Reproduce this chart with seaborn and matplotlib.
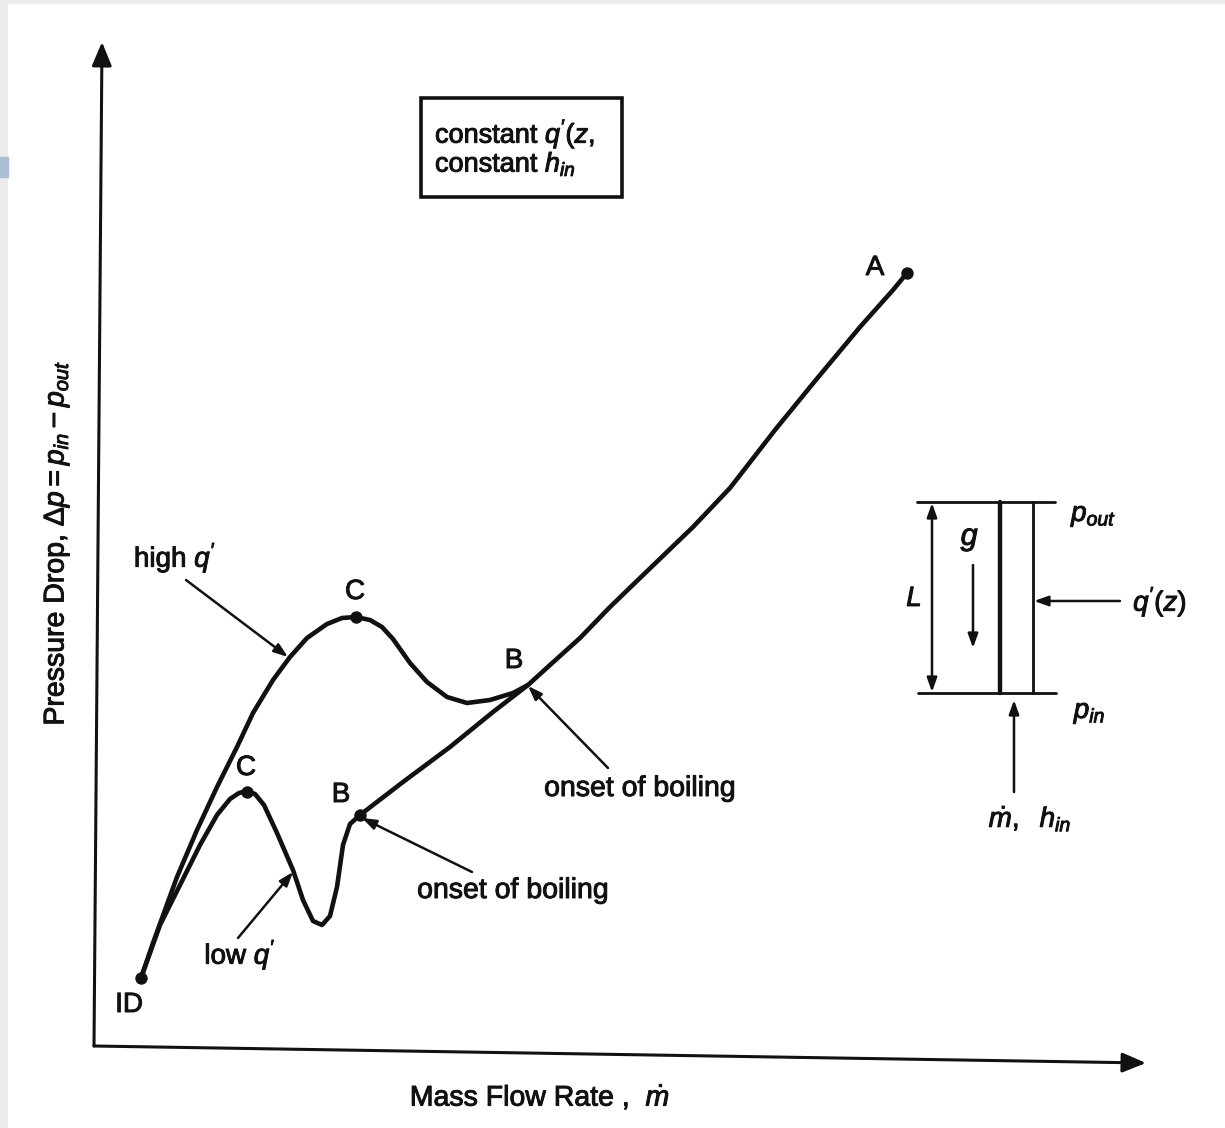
import matplotlib
matplotlib.use('Agg')
import matplotlib.pyplot as plt
import matplotlib.patheffects as pe
import seaborn as sns
import pandas as pd
from matplotlib.patches import Rectangle

# curvas, en pixeles de la figura (y hacia abajo)
main_x = [360, 403, 450, 493, 528, 550, 580, 610, 640, 693, 730, 775, 815, 860, 893, 907]
main_y = [815, 782, 747, 712, 685, 665, 638, 607, 578, 527, 488, 430, 381, 327, 290, 273]
high_x = [141, 153, 177, 197, 217, 237, 253, 273, 290, 307, 327, 342, 356, 370, 382, 393, 410, 427, 447, 467, 490, 513, 528]
high_y = [978, 943, 877, 830, 787, 747, 713, 680, 657, 638, 624, 618, 617, 620, 627, 639, 663, 682, 697, 703, 700, 693, 685]
low_x = [141, 160, 180, 200, 217, 230, 239, 247, 255, 264, 277, 293, 303, 313, 322, 330, 337, 343, 350, 360]
low_y = [978, 925, 885, 845, 815, 799, 793, 791, 794, 805, 833, 870, 900, 921, 925, 916, 887, 845, 824, 815]

df = pd.concat([
    pd.DataFrame({'x': main_x, 'y': main_y, 'curve': 'main'}),
    pd.DataFrame({'x': high_x, 'y': high_y, 'curve': 'high'}),
    pd.DataFrame({'x': low_x, 'y': low_y, 'curve': 'low'}),
])

point_x = [141, 907, 356, 247, 360]
point_y = [978, 273, 617, 792, 815]

# etiquetas: texto, x, y, tamano
labels = [
    ('A', 875, 268, 20), ('C', 355, 592, 20), ('B', 514, 661, 20),
    ('C', 246, 768, 20), ('B', 341, 795, 20), ('ID', 129, 1005, 20),
    ("high $q'$", 175, 558, 20), ("low $q'$", 240, 955, 20),
    ('onset of boiling', 640, 789, 20.5), ('onset of boiling', 513, 891, 20.5),
    ('$p_{out}$', 1094, 516, 20), ('$p_{in}$', 1090, 713, 20),
    ("$q'(z)$", 1160, 602, 20), ('$g$', 970, 539, 22), ('$L$', 914, 599, 20),
    (r'$\dot{m},\ \ h_{in}$', 1030, 819, 20),
    (r'Mass Flow Rate ,  $\dot{m}$', 540, 1098, 20.5),
]

# flechas: punta x, punta y, cola x, cola y
arrows = [
    (288, 657, 186, 580), (528, 686, 608, 768), (362, 818, 472, 872),
    (293, 872, 238, 938),
]

sns.set_theme(style='white')
plt.rcParams['font.family'] = ['Liberation Sans', 'DejaVu Sans']
plt.rcParams['mathtext.fontset'] = 'custom'
plt.rcParams['mathtext.it'] = 'Liberation Sans:italic'
plt.rcParams['mathtext.rm'] = 'Liberation Sans'

ink = '#111111'
heavy = [pe.withStroke(linewidth=0.7, foreground=ink)]

fig = plt.figure(figsize=(12.25, 11.28), dpi=100, facecolor='#ececec')
ax = fig.add_axes([0, 0, 1, 1])
ax.set_xlim(0, 1225)
ax.set_ylim(1128, 0)
ax.axis('off')
ax.add_patch(Rectangle((8, 4), 1217, 1124, color='white', zorder=0))
ax.add_patch(Rectangle((0, 157), 8, 20, color='#a9bdd3', zorder=0))

sns.lineplot(data=df, x='x', y='y', units='curve', estimator=None, color=ink,
             linewidth=3.3, ax=ax, legend=False, sort=False)
sns.scatterplot(x=point_x, y=point_y, s=80, color=ink, linewidth=0, ax=ax, zorder=5)

# ejes dibujados como flechas
arrow_style = dict(arrowstyle='-|>,head_length=1.2,head_width=0.5', color=ink, lw=2.2, shrinkA=0, shrinkB=0)
ax.annotate('', xy=(102, 42), xytext=(94, 1046), arrowprops=arrow_style)
ax.annotate('', xy=(1146, 1063), xytext=(94, 1046), arrowprops=arrow_style)

thin_style = dict(arrowstyle='-|>,head_length=0.7,head_width=0.25', color=ink, lw=1.8, shrinkA=0, shrinkB=0)
for x0, y0, x1, y1 in arrows:
    ax.annotate('', xy=(x0, y0), xytext=(x1, y1), arrowprops=thin_style)

for text, x, y, size in labels:
    ax.text(x, y, text, fontsize=size, ha='center', va='center', color=ink, path_effects=heavy)

ax.text(57, 543, r"Pressure Drop, $\Delta p = p_{in} - p_{out}$", fontsize=20.5, rotation=90,
        ha='center', va='center', color=ink, path_effects=heavy)

# recuadro y esquema del canal
ax.add_patch(Rectangle((421, 98), 201, 99, fill=False, edgecolor=ink, lw=2.6))
ax.text(435, 134, "constant $q'(z,$", fontsize=19.5, ha='left', va='center', color=ink, path_effects=heavy)
ax.text(435, 164, 'constant $h_{in}$', fontsize=19.5, ha='left', va='center', color=ink, path_effects=heavy)

ax.plot([917, 1055], [502, 502], color=ink, lw=2)
ax.plot([918, 1056], [693, 693], color=ink, lw=2)
ax.plot([1000, 1000], [502, 693], color=ink, lw=3.2)
ax.plot([1033, 1033], [502, 693], color=ink, lw=2)
ax.annotate('', xy=(932, 503), xytext=(932, 692),
            arrowprops=dict(arrowstyle='<|-|>,head_length=0.7,head_width=0.25', color=ink, lw=1.8, shrinkA=0, shrinkB=0))
ax.annotate('', xy=(973, 648), xytext=(973, 565), arrowprops=thin_style)
ax.annotate('', xy=(1034, 601), xytext=(1120, 601), arrowprops=thin_style)
ax.annotate('', xy=(1014, 700), xytext=(1014, 792), arrowprops=thin_style)

fig.savefig('out.png', dpi=100, facecolor=fig.get_facecolor())
